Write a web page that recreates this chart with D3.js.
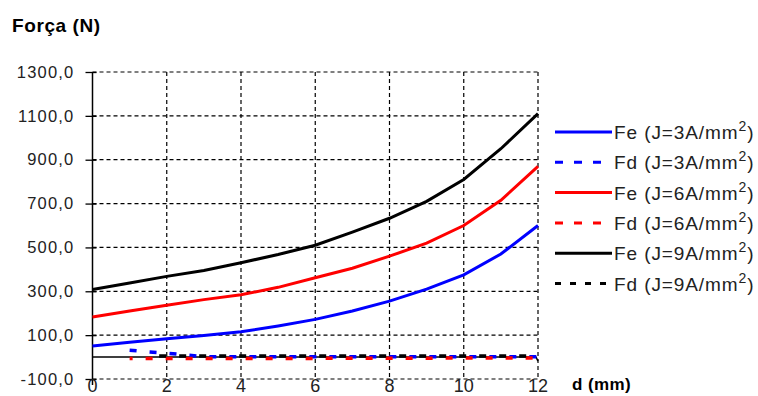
<!DOCTYPE html>
<html>
<head>
<meta charset="utf-8">
<script src="https://cdn.jsdelivr.net/npm/d3@7"></script>
<style>
  html, body { margin: 0; padding: 0; background: #fff; }
  svg { display: block; }
  text { font-family: "Liberation Sans", Arial, sans-serif; }
</style>
</head>
<body>
<svg id="chart" width="758" height="396"></svg>
<script>
// Distance d (mm)
const distances = [0, 1, 2, 3, 4, 5, 6, 7, 8, 9, 10, 11, 12];

// Fe curves, force in N
const fe3 = [50, 68, 84, 98, 115, 142, 172, 210, 255, 310, 375, 470, 600];
const fe6 = [183, 210, 236, 262, 284, 318, 362, 405, 460, 520, 600, 715, 870];
const fe9 = [308, 338, 368, 395, 430, 468, 510, 570, 633, 710, 810, 950, 1110];

// Fd curves (start at d = 1 mm)
const fdDistances = [1, 1.5, 2, 3, 4, 5, 6, 7, 8, 9, 10, 11, 12];
const fd3 = [31, 24, 18, 2, 1, 1, 1, 1, 1, 1, 1, 1, 1];
const fd6 = [-7, -7, -7, -7, -7, -6, -6, -5, -5, -5, -4, -4, -4];
const fd9 = [null, 5, 5, 5, 5, 5, 5, 5, 5, 5, 5, 5, 5];

const xTicks = [0, 2, 4, 6, 8, 10, 12];
const yTicks = [-100, 100, 300, 500, 700, 900, 1100, 1300];

const series = [
  { name: "Fe (J=3A/mm", color: "#0000ff", dashed: false, xs: distances, ys: fe3 },
  { name: "Fd (J=3A/mm", color: "#0000ff", dashed: true, xs: fdDistances, ys: fd3 },
  { name: "Fe (J=6A/mm", color: "#ff0000", dashed: false, xs: distances, ys: fe6 },
  { name: "Fd (J=6A/mm", color: "#ff0000", dashed: true, xs: fdDistances, ys: fd6 },
  { name: "Fe (J=9A/mm", color: "#000000", dashed: false, xs: distances, ys: fe9 },
  { name: "Fd (J=9A/mm", color: "#000000", dashed: true, xs: fdDistances, ys: fd9 }
];

const svg = d3.select("#chart");
const x = d3.scaleLinear().domain([0, 12]).range([92.5, 538]);
const y = d3.scaleLinear().domain([-100, 1300]).range([379, 72]);
// Decimal comma, plain hyphen for negatives
const fmt = v => d3.format(".1f")(v).replace(".", ",").replace("\u2212", "-");

// Dashed grid
const grid = svg.append("g").attr("stroke", "#000").attr("stroke-width", 1.2)
  .attr("stroke-dasharray", "4,3").attr("fill", "none");
yTicks.forEach(t => grid.append("line")
  .attr("x1", x(0)).attr("x2", x(12)).attr("y1", y(t)).attr("y2", y(t)));
xTicks.filter(t => t > 0).forEach(t => grid.append("line")
  .attr("x1", x(t)).attr("x2", x(t)).attr("y1", y(1300)).attr("y2", y(-100)));

// Y axis
const yAxis = svg.append("g").attr("transform", `translate(${x(0)},0)`)
  .call(d3.axisLeft(y).tickValues(yTicks).tickFormat(fmt).tickSize(7).tickPadding(11));
yAxis.select(".domain").remove();
yAxis.selectAll(".tick line").attr("stroke", "#000").attr("stroke-width", 1.3)
  .attr("x2", 4).attr("x1", -7);
yAxis.selectAll(".tick text").attr("font-size", 16.5).attr("fill", "#222")
  .attr("letter-spacing", 1.2)
  .attr("font-family", "Liberation Sans, Arial, sans-serif");
svg.append("line").attr("x1", x(0)).attr("x2", x(0))
  .attr("y1", y(1300)).attr("y2", y(-100) + 6)
  .attr("stroke", "#000").attr("stroke-width", 1.5);

// Zero line (x axis)
svg.append("path")
  .attr("d", `M${x(0)},${y(0)}H${x(12) - 2}L${x(12)},${y(0) + 4}`)
  .attr("fill", "none").attr("stroke", "#000").attr("stroke-width", 1.5);

// X tick labels
svg.append("g").selectAll("text").data(xTicks).join("text")
  .attr("x", d => x(d)).attr("y", 392).attr("text-anchor", "middle")
  .attr("font-size", 18).attr("fill", "#222").text(d => d);

// Curves
const line = d3.line()
  .defined(d => d[1] !== null)
  .x(d => x(d[0])).y(d => y(d[1]));

const order = [1, 3, 5, 0, 2, 4];
const offsets = { 1: 0, 3: 4, 5: 9 };
order.forEach(i => {
  const s = series[i];
  const pts = s.xs.map((v, k) => [v, s.ys[k]]);
  svg.append("path").datum(pts)
    .attr("d", line)
    .attr("fill", "none")
    .attr("stroke", s.color)
    .attr("stroke-width", s.dashed ? 3.5 : 3)
    .attr("stroke-dasharray", s.dashed ? "7,13" : null)
    .attr("stroke-dashoffset", s.dashed ? offsets[i] : 0);
});

// Legend
const legend = svg.append("g");
series.forEach((s, i) => {
  const ly = 132 + i * 30.3;
  legend.append("line")
    .attr("x1", 555).attr("x2", 612).attr("y1", ly).attr("y2", ly)
    .attr("stroke", s.color).attr("stroke-width", 3)
    .attr("stroke-dasharray", s.dashed ? (s.color === "#000000" ? "6,9" : "8,11") : null);
  const t = legend.append("text").attr("x", 614).attr("y", ly + 7)
    .attr("font-size", 19).attr("letter-spacing", 0.9).attr("fill", "#222");
  t.append("tspan").text(s.name);
  t.append("tspan").attr("dy", -8).attr("font-size", 14).text("2");
  t.append("tspan").attr("dy", 8).text(")");
});

// Axis titles
svg.append("text").attr("x", 12).attr("y", 32)
  .attr("font-size", 19).attr("font-weight", "bold").attr("letter-spacing", 0.6)
  .attr("fill", "#000").text("Força (N)");
svg.append("text").attr("x", 572).attr("y", 390)
  .attr("font-size", 17).attr("font-weight", "bold").attr("letter-spacing", 0.4)
  .attr("fill", "#000").text("d (mm)");
</script>
</body>
</html>
